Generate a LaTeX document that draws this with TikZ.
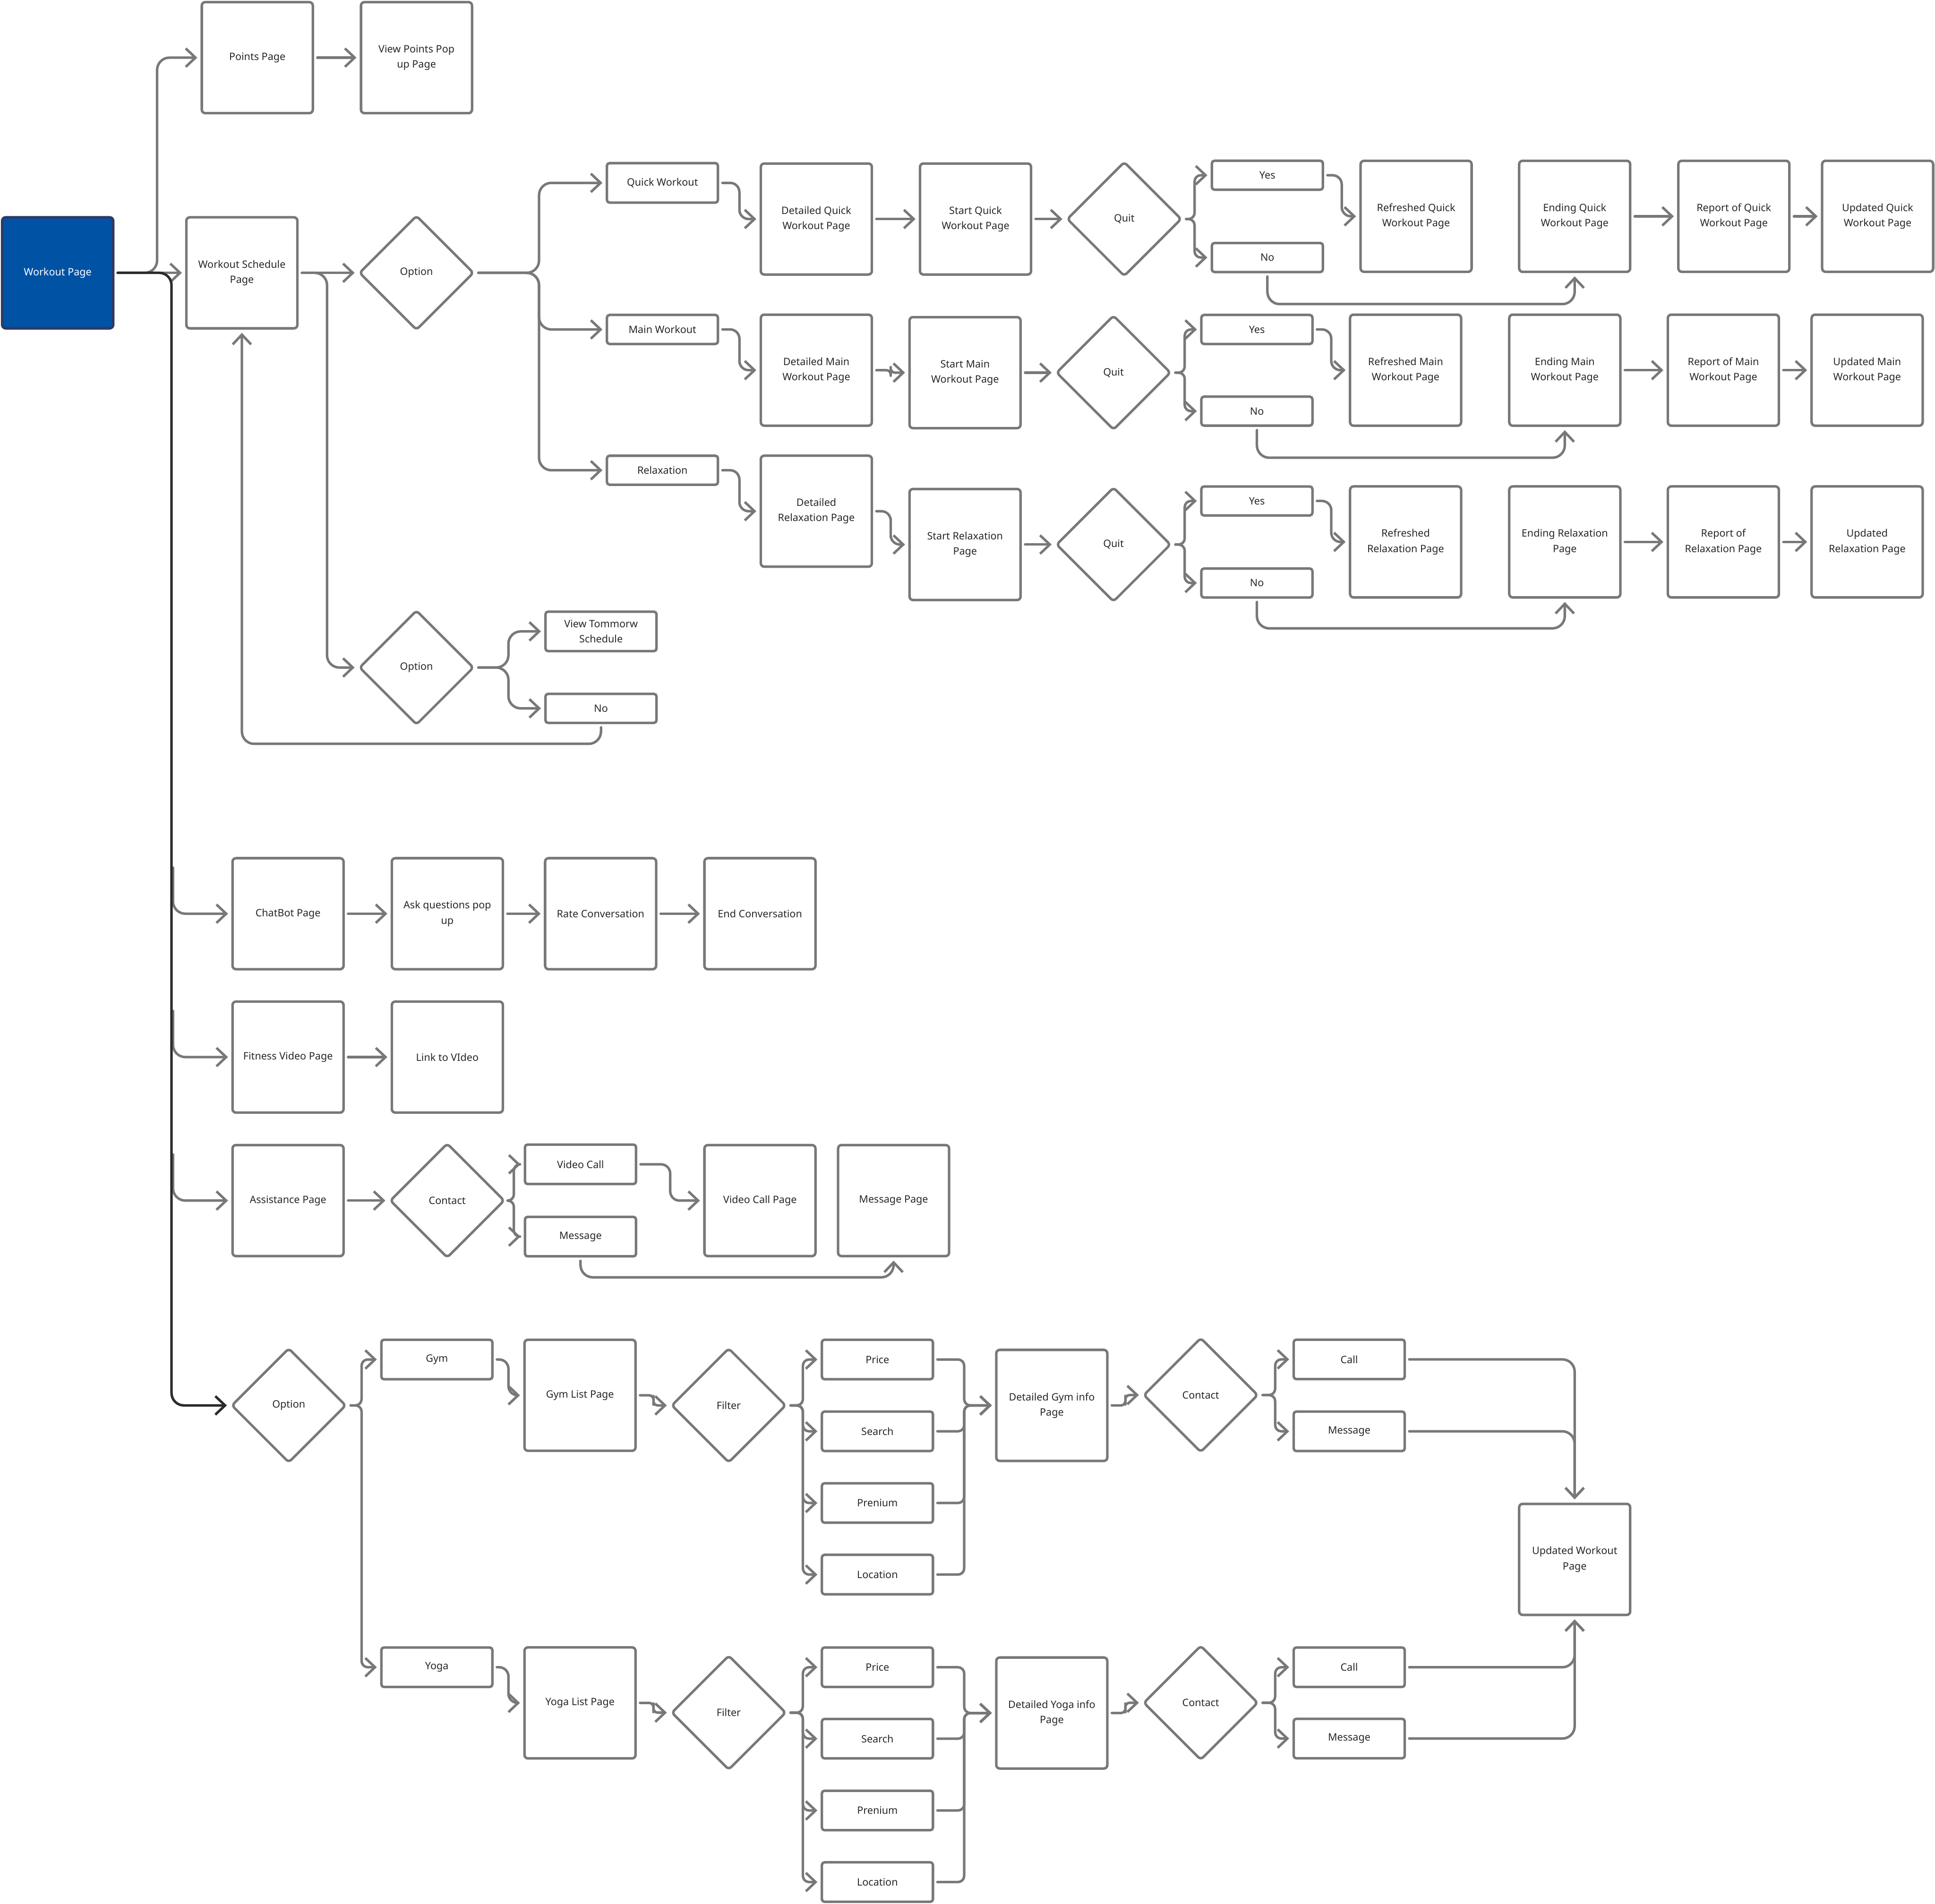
\documentclass[tikz,border=0pt]{standalone}
\usepackage{fontspec}
\setmainfont{Noto Sans}
\usetikzlibrary{shapes.geometric,arrows.meta,calc}
\definecolor{lg}{HTML}{787878}
\definecolor{dk}{HTML}{2B2B2B}
\definecolor{wpblue}{HTML}{0052A5}
\definecolor{wpedge}{HTML}{2E3A63}
\definecolor{txt}{HTML}{262626}
\begin{document}
\begin{tikzpicture}[x=0.02cm,y=-0.02cm,
  every node/.style={font=\fontsize{4.7}{7}\selectfont, text=txt, align=center, inner sep=0pt},
  big/.style={draw=lg, line width=1.15pt, rounded corners=1.6pt, minimum width=1.8cm, minimum height=1.8cm},
  sbox/.style={draw=lg, line width=1.15pt, rounded corners=1.2pt, minimum width=1.8cm, minimum height=0.47cm},
  tbox/.style={sbox, minimum height=0.64cm},
  dia/.style={diamond, aspect=1, draw=lg, line width=1.15pt, rounded corners=1.6pt, minimum width=1.86cm, minimum height=1.86cm},
  conn/.style={draw=lg, line width=1.15pt, line cap=round, line join=round, rounded corners=0.2cm, -{Straight Barb[length=4.5pt,width=8.5pt]}, shorten <=1.5pt, shorten >=1.5pt},
  sconn/.style={conn, rounded corners=0.15cm},
  jog/.style={conn, rounded corners=0.07cm},
  brk/.style={conn, rounded corners=0.1cm},
  dconn/.style={conn, draw=dk}
]
\useasboundingbox (0,0) rectangle (1568,1543);

% ---------- nodes ----------
\node[big, fill=wpblue, draw=wpedge, text=white] (wp) at (46.75,221.1) {Workout Page};
\node[big] (pts) at (208.5,46.7) {Points Page};
\node[big] (vpp) at (337.5,46.7) {View Points Pop\\up Page};
\node[big] (wsp) at (196,221.1) {Workout Schedule\\Page};
\node[dia] (opt1) at (337.5,221.1) {Option};

\node[tbox] (qw) at (536.8,148.2) {Quick Workout};
\node[sbox] (mw) at (536.8,267) {Main Workout};
\node[sbox] (rx) at (536.8,381.1) {Relaxation};

\node[big] (dq) at (661.5,177.5) {Detailed Quick\\Workout Page};
\node[big] (sq) at (790.5,177.5) {Start Quick\\Workout Page};
\node[dia] (q1) at (911,177.5) {Quit};
\node[sbox] (y1) at (1027,142) {Yes};
\node[sbox] (n1) at (1027,208.7) {No};
\node[big] (rq) at (1147.5,175.3) {Refreshed Quick\\Workout Page};
\node[big] (eq) at (1276,175.3) {Ending Quick\\Workout Page};
\node[big] (rpq) at (1405,175.3) {Report of Quick\\Workout Page};
\node[big] (uq) at (1521.5,175.3) {Updated Quick\\Workout Page};

\node[big] (dm) at (661.5,300) {Detailed Main\\Workout Page};
\node[big] (smw) at (782,302) {Start Main\\Workout Page};
\node[dia] (q2) at (902.3,302) {Quit};
\node[sbox] (y2) at (1018.5,267) {Yes};
\node[sbox] (n2) at (1018.5,333.2) {No};
\node[big] (rm) at (1139,300) {Refreshed Main\\Workout Page};
\node[big] (em) at (1268,300) {Ending Main\\Workout Page};
\node[big] (rpm) at (1396.5,300) {Report of Main\\Workout Page};
\node[big] (um) at (1513,300) {Updated Main\\Workout Page};

\node[big] (dr) at (661.5,414.3) {Detailed\\Relaxation Page};
\node[big] (sr) at (782,441.3) {Start Relaxation\\Page};
\node[dia] (q3) at (902.3,441.3) {Quit};
\node[sbox] (y3) at (1018.5,406) {Yes};
\node[sbox] (n3) at (1018.5,472.5) {No};
\node[big] (rr) at (1139,439.2) {Refreshed\\Relaxation Page};
\node[big] (er) at (1268,439.2) {Ending Relaxation\\Page};
\node[big] (rpr) at (1396.5,439.2) {Report of\\Relaxation Page};
\node[big] (ur) at (1513,439.2) {Updated\\Relaxation Page};

\node[dia] (opt2) at (337.5,541) {Option};
\node[tbox] (vts) at (487,511.7) {View Tommorw\\Schedule};
\node[sbox] (no2) at (487,574.1) {No};

\node[big] (cb) at (233.4,740.5) {ChatBot Page};
\node[big] (aq) at (362.5,740.5) {Ask questions pop\\up};
\node[big] (rc) at (486.7,740.5) {Rate Conversation};
\node[big] (ec) at (615.8,740.5) {End Conversation};

\node[big] (fv) at (233.4,856.7) {Fitness Video Page};
\node[big] (lv) at (362.5,856.7) {Link to VIdeo};

\node[big] (ap) at (233.4,973) {Assistance Page};
\node[dia] (ct) at (362.4,973) {Contact};
\node[tbox] (vc) at (470.4,943.6) {Video Call};
\node[tbox] (msg) at (470.4,1002.2) {Message};
\node[big] (vcp) at (615.8,973) {Video Call Page};
\node[big] (mp) at (724.1,973) {Message Page};

\node[dia] (op3) at (234,1139) {Option};
\node[tbox] (gym) at (354,1101.8) {Gym};
\node[big] (gl) at (470,1130.8) {Gym List Page};
\node[dia] (f1) at (590.5,1139) {Filter};
\node[tbox] (pr1) at (711,1101.8) {Price};
\node[tbox] (se1) at (711,1160) {Search};
\node[tbox] (pm1) at (711,1218.1) {Prenium};
\node[tbox] (lo1) at (711,1276.1) {Location};
\node[big] (dg) at (852.3,1139) {Detailed Gym info\\Page};
\node[dia] (c1) at (973,1130.6) {Contact};
\node[tbox] (call1) at (1093.3,1101.7) {Call};
\node[tbox] (m1) at (1093.3,1160) {Message};
\node[big] (uw) at (1276,1263.8) {Updated Workout\\Page};

\node[tbox] (yoga) at (354,1351.2) {Yoga};
\node[big] (yl) at (470,1380.1) {Yoga List Page};
\node[dia] (f2) at (590.5,1388) {Filter};
\node[tbox] (pr2) at (711,1351.2) {Price};
\node[tbox] (se2) at (711,1409.1) {Search};
\node[tbox] (pm2) at (711,1467.3) {Prenium};
\node[tbox] (lo2) at (711,1525.3) {Location};
\node[big] (dy) at (852.3,1388.3) {Detailed Yoga info\\Page};
\node[dia] (c2) at (973,1380) {Contact};
\node[tbox] (call2) at (1093.3,1351.2) {Call};
\node[tbox] (m2) at (1093.3,1409) {Message};

% ---------- connectors ----------
\draw[conn] (wp.east) -| ($(pts.west)+(-35.2,0)$) -- (pts.west);
\draw[conn] (wp.east) -- (wsp.west);
\draw[conn] (pts.east) -- (vpp.west);
\draw[conn] ($(cb.west)+(-47.2,-40)$) |- (cb.west);
\draw[conn] ($(fv.west)+(-47.2,-40)$) |- (fv.west);
\draw[conn] ($(ap.west)+(-47.2,-40)$) |- (ap.west);
\draw[dconn] (wp.east) -| ($(op3.west)+(-47.5,0)$) -- (op3.west);

\draw[conn] (wsp.east) -- (opt1.west);
\draw[conn] (wsp.east) -| ($(opt2.west)+(-25,0)$) -- (opt2.west);
\draw[conn] (opt1.east) -| ($(qw.west)+(-54,0)$) -- (qw.west);
\draw[conn] (opt1.east) -| ($(mw.west)+(-54,0)$) -- (mw.west);
\draw[conn] (opt1.east) -| ($(rx.west)+(-54,0)$) -- (rx.west);

% row 1
\draw[sconn] (qw.east) -| ($(qw.east)!.5!(dq.west)$) |- (dq.west);
\draw[conn] (dq.east) -- (sq.west);
\draw[conn] (sq.east) -- (q1.west);
\draw[brk] (q1.east) -| ($(y1.west)+(-13,0)$) -- (y1.west);
\draw[brk] (q1.east) -| ($(n1.west)+(-13,0)$) -- (n1.west);
\draw[sconn] (y1.east) -| ($(y1.east)!.5!(rq.west)$) |- (rq.west);
\draw[conn] (n1.south) -- ++(0,25) -| (eq.south);
\draw[conn] (eq.east) -- (rpq.west);
\draw[conn] (rpq.east) -- (uq.west);

% row 2
\draw[sconn] (mw.east) -| ($(mw.east)!.5!(dm.west)$) |- (dm.west);
\draw[jog] (dm.east) -| ($(dm.east)!.5!(smw.west)$) |- (smw.west);
\draw[conn] (smw.east) -- (q2.west);
\draw[brk] (q2.east) -| ($(y2.west)+(-12.5,0)$) -- (y2.west);
\draw[brk] (q2.east) -| ($(n2.west)+(-12.5,0)$) -- (n2.west);
\draw[sconn] (y2.east) -| ($(y2.east)!.5!(rm.west)$) |- (rm.west);
\draw[conn] (n2.south) -- ++(0,25) -| (em.south);
\draw[conn] (em.east) -- (rpm.west);
\draw[conn] (rpm.east) -- (um.west);

% row 3
\draw[sconn] (rx.east) -| ($(rx.east)!.5!(dr.west)$) |- (dr.west);
\draw[sconn] (dr.east) -| ($(dr.east)!.5!(sr.west)$) |- (sr.west);
\draw[conn] (sr.east) -- (q3.west);
\draw[brk] (q3.east) -| ($(y3.west)+(-12.5,0)$) -- (y3.west);
\draw[brk] (q3.east) -| ($(n3.west)+(-12.5,0)$) -- (n3.west);
\draw[sconn] (y3.east) -| ($(y3.east)!.5!(rr.west)$) |- (rr.west);
\draw[conn] (n3.south) -- ++(0,24) -| (er.south);
\draw[conn] (er.east) -- (rpr.west);
\draw[conn] (rpr.east) -- (ur.west);

% option 2
\draw[conn] (opt2.east) -| ($(vts.west)+(-29,0)$) -- (vts.west);
\draw[conn] (opt2.east) -| ($(no2.west)+(-29,0)$) -- (no2.west);
\draw[conn] (no2.south) -- ++(0,16) -| (wsp.south);

% chatbot, fitness, assistance
\draw[conn] (cb.east) -- (aq.west);
\draw[conn] (aq.east) -- (rc.west);
\draw[conn] (rc.east) -- (ec.west);
\draw[conn] (fv.east) -- (lv.west);
\draw[conn] (ap.east) -- (ct.west);
\draw[brk] (ct.east) -| ($(vc.west)+(-8,0)$) -- (vc.west);
\draw[brk] (ct.east) -| ($(msg.west)+(-8,0)$) -- (msg.west);
\draw[sconn] (vc.east) -| ($(vc.east)!.5!(vcp.west)$) |- (vcp.west);
\draw[conn] (msg.south) -- ++(0,16) -| (mp.south);

% option 3
\draw[brk] (op3.east) -| ($(gym.west)+(-15,0)$) -- (gym.west);
\draw[brk] (op3.east) -| ($(yoga.west)+(-15,0)$) -- (yoga.west);

% gym
\draw[sconn] (gym.east) -| ($(gym.east)!.5!(gl.west)$) |- (gl.west);
\draw[jog] (gl.east) -| ($(gl.east)!.5!(f1.west)$) |- (f1.west);
\foreach \t in {pr1,se1,pm1,lo1}{
  \draw[brk] (f1.east) -| ($(\t.west)+(-14.4,0)$) -- (\t.west);
  \draw[brk] (\t.east) -| ($(dg.west)+(-25,0)$) -- (dg.west);
}
\draw[jog] (dg.east) -| ($(dg.east)!.5!(c1.west)$) |- (c1.west);
\draw[brk] (c1.east) -| ($(call1.west)+(-14,0)$) -- (call1.west);
\draw[brk] (c1.east) -| ($(m1.west)+(-14,0)$) -- (m1.west);
\draw[conn] (call1.east) -| (uw.north);
\draw[conn] (m1.east) -| (uw.north);

% yoga
\draw[sconn] (yoga.east) -| ($(yoga.east)!.5!(yl.west)$) |- (yl.west);
\draw[jog] (yl.east) -| ($(yl.east)!.5!(f2.west)$) |- (f2.west);
\foreach \t in {pr2,se2,pm2,lo2}{
  \draw[brk] (f2.east) -| ($(\t.west)+(-14.4,0)$) -- (\t.west);
  \draw[brk] (\t.east) -| ($(dy.west)+(-25,0)$) -- (dy.west);
}
\draw[jog] (dy.east) -| ($(dy.east)!.5!(c2.west)$) |- (c2.west);
\draw[brk] (c2.east) -| ($(call2.west)+(-14,0)$) -- (call2.west);
\draw[brk] (c2.east) -| ($(m2.west)+(-14,0)$) -- (m2.west);
\draw[conn] (call2.east) -| (uw.south);
\draw[conn] (m2.east) -| (uw.south);
\end{tikzpicture}
\end{document}
